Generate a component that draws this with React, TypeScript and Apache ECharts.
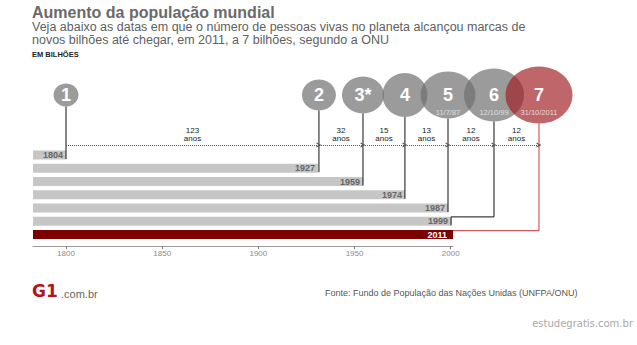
import React, { useEffect, useRef } from 'react';
import * as echarts from 'echarts';

// ---- data ----
const barYears = ['1804', '1927', '1959', '1974', '1987', '1999', '2011'];
// where each bar ends on the (drawn) year axis
const barEnds = [1800.0, 1931.0, 1954.4, 1976.2, 1998.6, 2000.2, 2001.2];
// horizontal position of each billion marker on the same axis
const markerX = [1800.0, 1931.5, 1954.4, 1976.2, 1998.6, 2022.5, 2045.9];
const markerNames = ['1', '2', '3*', '4', '5', '6', '7'];
const markerDates = ['', '', '', '', '11/7/87', '12/10/99', '31/10/2011'];
const gapYears = [123, 32, 15, 13, 12, 12];
const axisYears = [1800, 1850, 1900, 1950, 2000];

// ---- styles / layout ----
const markerSizes = [[25, 23], [34, 31], [42, 37], [45, 44], [55, 47], [60, 53], [67, 57]];
const FONT = '"Liberation Sans", Arial, Helvetica, sans-serif';
const PX_PER_YEAR = 1.9235;
const X_MIN = 1782.84;
const X_MAX_BARS = 2001.2;
const OVERLAY_WIDTH = 577;
const MARKER_ROW = -3.53;
const ARROW_ROW = 0.24;
const GRAY = 'rgba(110,110,110,0.69)';
const RED = 'rgba(160,30,35,0.68)';
const CHEVRON = 'path://M0,10 L5,0 L10,10 L7.6,10 L5,4.6 L2.4,10 Z';

function txt(x: number, y: number, text: string, fontSize: number, fill: string, extra: any = {}) {
  return {
    type: 'text',
    x,
    y,
    silent: true,
    style: {
      text,
      fontSize,
      fontFamily: FONT,
      fill,
      align: 'left',
      verticalAlign: 'middle',
      textAlign: 'left',
      textVerticalAlign: 'middle',
      ...extra,
    },
  };
}

export default function App() {
  const ref = useRef<HTMLDivElement>(null);

  useEffect(() => {
    if (!ref.current) return;
    const chart = echarts.init(ref.current, undefined, { renderer: 'svg' });

    const connectors = markerX.map((mx, i) => {
      const row = i + 1;
      let coords: number[][];
      if (i < 5) coords = [[mx, MARKER_ROW], [mx, row + 0.3]];
      else if (i === 5)
        coords = [[mx, MARKER_ROW], [mx, row - 0.33], [barEnds[i], row - 0.33], [barEnds[i], row + 0.3]];
      else coords = [[mx, MARKER_ROW], [mx, row - 0.29], [barEnds[i], row - 0.29]];
      return { coords, lineStyle: { color: i === 6 ? '#c9383e' : '#111111' } };
    });

    const option: any = {
      animation: false,
      backgroundColor: '#ffffff',
      grid: [
        { left: 33, top: 148.4, width: (X_MAX_BARS - X_MIN) * PX_PER_YEAR, height: 92.75 },
        { left: 33, top: 62.275, width: OVERLAY_WIDTH, height: 178.875 },
      ],
      xAxis: [
        {
          gridIndex: 0,
          type: 'value',
          min: X_MIN,
          max: X_MAX_BARS,
          offset: 5,
          axisLine: { show: true, lineStyle: { color: '#9a9a9a', width: 1 } },
          axisTick: { show: true, length: 3, customValues: axisYears, lineStyle: { color: '#777' } },
          axisLabel: {
            customValues: axisYears,
            formatter: (v: number) => String(v),
            color: '#8a8a8a',
            fontSize: 8,
            margin: 3,
            fontFamily: FONT,
          },
          splitLine: { show: false },
        },
        {
          gridIndex: 1,
          type: 'value',
          min: X_MIN,
          max: X_MIN + OVERLAY_WIDTH / PX_PER_YEAR,
          show: false,
          splitLine: { show: false },
        },
      ],
      yAxis: [
        { gridIndex: 0, type: 'category', inverse: true, data: barYears, show: false },
        { gridIndex: 1, type: 'value', inverse: true, min: -6, max: 7.5, show: false, splitLine: { show: false } },
      ],
      series: [
        {
          type: 'bar',
          xAxisIndex: 0,
          yAxisIndex: 0,
          barWidth: 9,
          clip: true,
          silent: true,
          z: 2,
          data: barEnds.map((v, i) => ({
            value: v,
            itemStyle: { color: i === 6 ? '#7d0000' : '#c6c6c6' },
            label: { color: i === 6 ? '#ffffff' : '#666666', distance: i === 6 ? 6 : 3 },
          })),
          label: {
            show: true,
            position: 'insideRight',
            formatter: (p: any) => barYears[p.dataIndex],
            fontSize: 9,
            fontWeight: 'bold',
            fontFamily: FONT,
          },
        },
        {
          type: 'lines',
          coordinateSystem: 'cartesian2d',
          xAxisIndex: 1,
          yAxisIndex: 1,
          polyline: true,
          silent: true,
          z: 3,
          lineStyle: { width: 1, opacity: 1, curveness: 0 },
          data: connectors,
        },
        {
          type: 'lines',
          coordinateSystem: 'cartesian2d',
          xAxisIndex: 1,
          yAxisIndex: 1,
          silent: true,
          z: 3,
          symbol: ['none', CHEVRON],
          symbolSize: [8, 5],
          lineStyle: { type: 'dotted', color: '#555555', width: 1, opacity: 1, curveness: 0 },
          label: {
            show: true,
            position: 'middle',
            formatter: '{b}',
            distance: 2,
            color: '#222222',
            fontSize: 8,
            lineHeight: 8,
            fontFamily: FONT,
          },
          data: gapYears.map((g, i) => ({
            name: `${g}\nanos`,
            coords: [[markerX[i], ARROW_ROW], [markerX[i + 1], ARROW_ROW]],
          })),
        },
        {
          type: 'scatter',
          xAxisIndex: 1,
          yAxisIndex: 1,
          silent: true,
          z: 4,
          symbol: 'circle',
          itemStyle: { color: '#ffffff', opacity: 1 },
          data: markerX.map((x, i) => ({ value: [x, MARKER_ROW], symbolSize: markerSizes[i] })),
        },
        {
          type: 'scatter',
          xAxisIndex: 1,
          yAxisIndex: 1,
          silent: true,
          z: 5,
          symbol: 'circle',
          data: markerX.map((x, i) => ({
            value: [x, MARKER_ROW],
            symbolSize: markerSizes[i],
            itemStyle: { color: i === 6 ? RED : GRAY, opacity: 1 },
          })),
          label: {
            show: true,
            position: 'inside',
            formatter: (p: any) => markerNames[p.dataIndex],
            color: '#ffffff',
            fontSize: 18,
            fontWeight: 'bold',
            fontFamily: FONT,
          },
        },
        {
          type: 'scatter',
          xAxisIndex: 1,
          yAxisIndex: 1,
          silent: true,
          z: 6,
          symbol: 'circle',
          symbolSize: 0.1,
          itemStyle: { color: 'rgba(0,0,0,0)' },
          data: markerX.map((x) => [x, MARKER_ROW]),
          label: {
            show: true,
            position: 'inside',
            offset: [0, 17],
            formatter: (p: any) => markerDates[p.dataIndex],
            color: '#f2f2f2',
            fontSize: 7.5,
            fontFamily: FONT,
          },
        },
      ],
      graphic: [
        txt(32, 12.5, 'Aumento da população mundial', 16, '#6a6a6a', { fontWeight: 'bold' }),
        txt(32, 26.5, 'Veja abaixo as datas em que o número de pessoas vivas no planeta alcançou marcas de', 12.5, '#606060'),
        txt(32, 40, 'novos bilhões até chegar, em 2011, a 7 bilhões, segundo a ONU', 12.5, '#606060'),
        txt(32, 54, 'EM BILHÕES', 7.5, '#222222', { fontWeight: 'bold' }),
        txt(32, 290.5, 'G1', 17, '#b3141b', { fontWeight: 'bold', fontFamily: '"DejaVu Sans", sans-serif' }),
        txt(61, 293.5, '.com.br', 11, '#666666'),
        txt(325, 292.5, 'Fonte: Fundo de População das Nações Unidas (UNFPA/ONU)', 9, '#555555'),
        txt(633, 323, 'estudegratis.com.br', 10, '#a8a8a8', {
          align: 'right',
          textAlign: 'right',
          fontFamily: '"DejaVu Sans", sans-serif',
        }),
      ],
    };

    chart.setOption(option);
    return () => chart.dispose();
  }, []);

  return (
    <div
      ref={ref}
      style={{ position: 'fixed', left: 0, top: 0, width: 637, height: 345, background: '#ffffff' }}
    />
  );
}
